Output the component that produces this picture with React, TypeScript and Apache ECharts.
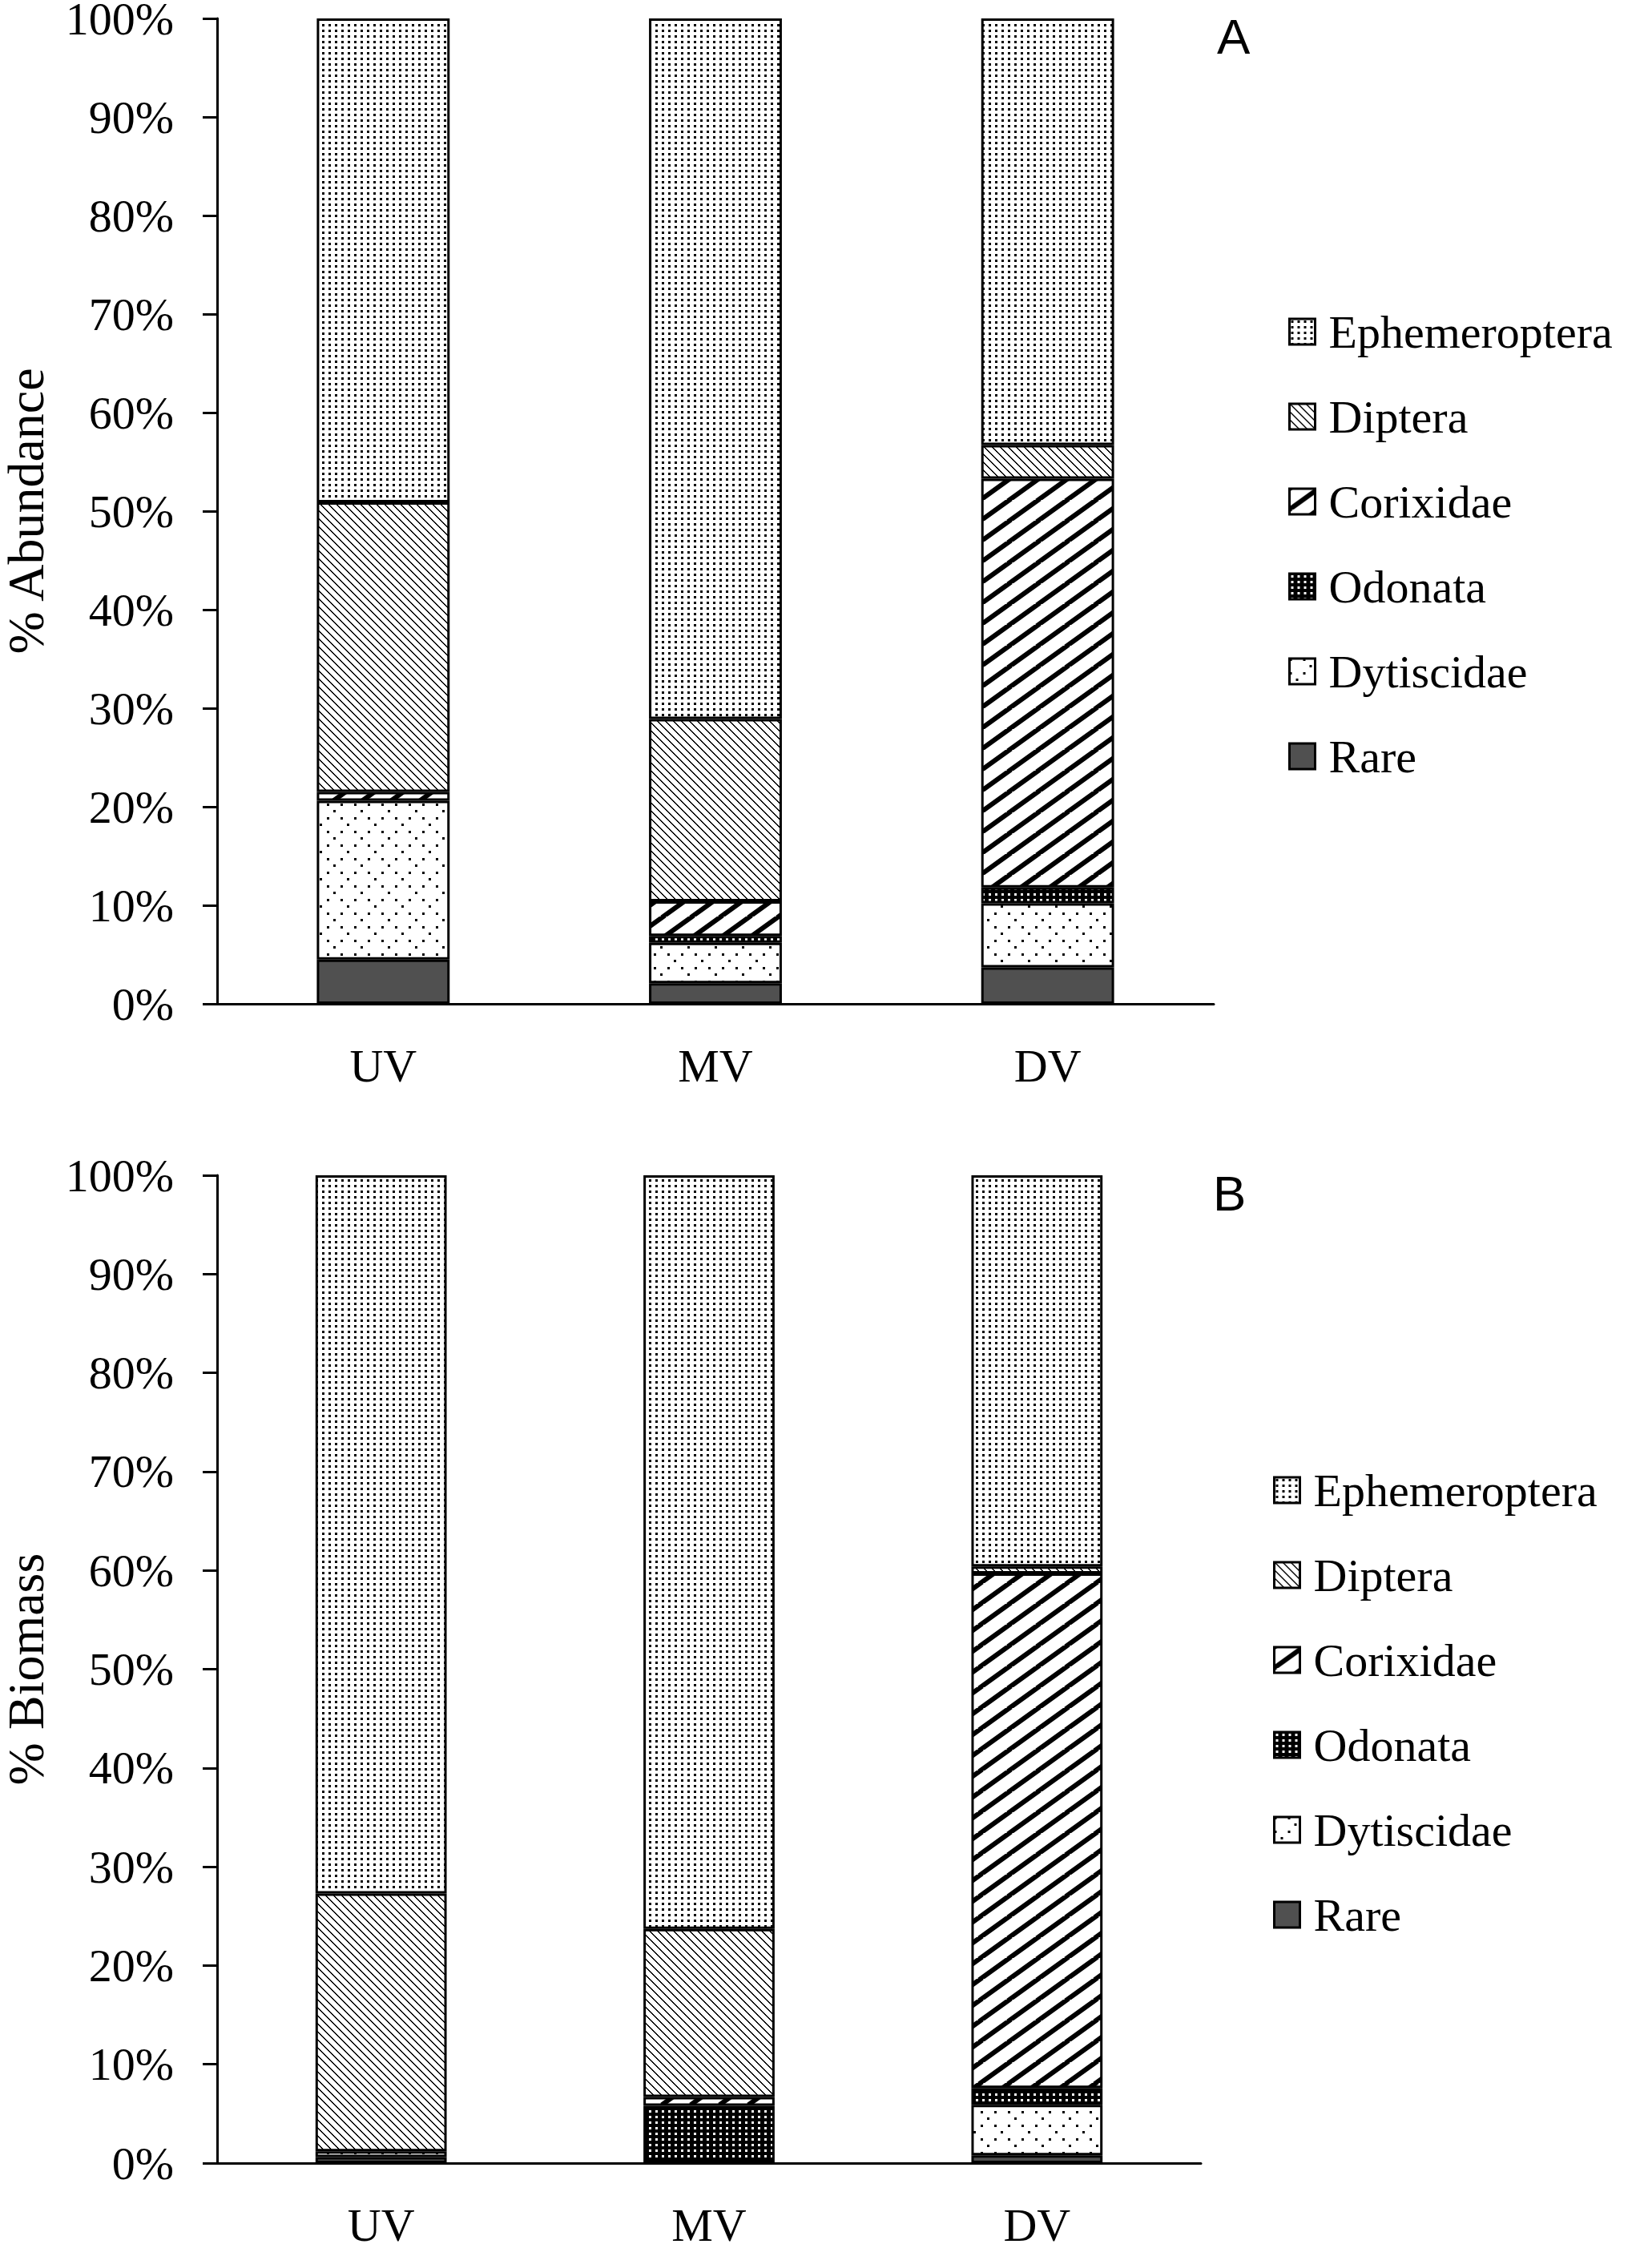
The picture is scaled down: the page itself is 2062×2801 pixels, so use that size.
import React, { useEffect, useRef } from 'react';
import * as echarts from 'echarts';

const categories = ['UV', 'MV', 'DV'];
const stackOrder = ['Rare', 'Dytiscidae', 'Odonata', 'Corixidae', 'Diptera', 'Ephemeroptera'];
const legendOrder = ['Ephemeroptera', 'Diptera', 'Corixidae', 'Odonata', 'Dytiscidae', 'Rare'];

// Panel A: % Abundance
const abundanceRare = [4.5, 2.1, 3.7];
const abundanceDytiscidae = [16.1, 4.1, 6.5];
const abundanceOdonata = [0, 0.7, 1.6];
const abundanceCorixidae = [0.9, 3.5, 41.5];
const abundanceDiptera = [29.4, 18.5, 3.4];
const abundanceEphemeroptera = [49.1, 71.1, 43.3];

// Panel B: % Biomass
const biomassRare = [0.6, 0, 0.8];
const biomassDytiscidae = [0.6, 0, 5.1];
const biomassOdonata = [0, 5.8, 1.7];
const biomassCorixidae = [0, 0.9, 52.1];
const biomassDiptera = [26.1, 17.0, 0.7];
const biomassEphemeroptera = [72.7, 76.3, 39.6];

const abundance: Record<string, number[]> = {
  Rare: abundanceRare,
  Dytiscidae: abundanceDytiscidae,
  Odonata: abundanceOdonata,
  Corixidae: abundanceCorixidae,
  Diptera: abundanceDiptera,
  Ephemeroptera: abundanceEphemeroptera,
};
const biomass: Record<string, number[]> = {
  Rare: biomassRare,
  Dytiscidae: biomassDytiscidae,
  Odonata: biomassOdonata,
  Corixidae: biomassCorixidae,
  Diptera: biomassDiptera,
  Ephemeroptera: biomassEphemeroptera,
};

const SERIF = 'Liberation Serif';
const AXIS_FS = 58;
const LEGEND_FS = 58;

function makePattern(w: number, h: number, bg: string, draw: (ctx: CanvasRenderingContext2D) => void) {
  const c = document.createElement('canvas');
  c.width = w;
  c.height = h;
  const ctx = c.getContext('2d')!;
  ctx.fillStyle = bg;
  ctx.fillRect(0, 0, w, h);
  ctx.fillStyle = '#000';
  ctx.strokeStyle = '#000';
  draw(ctx);
  return { image: c.toDataURL(), repeat: 'repeat', imageWidth: w, imageHeight: h };
}

function buildFills(): Record<string, any> {
  const ephem = makePattern(8, 7, '#fff', (ctx) => {
    ctx.fillRect(2, 2, 3, 3);
  });
  const diptera = makePattern(10, 10, '#fff', (ctx) => {
    for (let i = 0; i < 10; i++) {
      ctx.fillRect(i, i, 2, 1);
      if (i === 9) ctx.fillRect(0, 9, 1, 1);
    }
  });
  const corix = makePattern(36, 26, '#fff', (ctx) => {
    ctx.lineWidth = 6;
    ctx.beginPath();
    for (let k = -1; k <= 1; k++) {
      ctx.moveTo(k * 36 - 2, 26 + (26 / 36) * 2);
      ctx.lineTo(k * 36 + 36 + 2, -(26 / 36) * 2);
    }
    ctx.stroke();
  });
  const odon = makePattern(8, 7, '#000', (ctx) => {
    ctx.fillStyle = '#fff';
    ctx.fillRect(2, 2, 3, 3);
  });
  const dyt = makePattern(34, 34, '#fff', (ctx) => {
    ctx.fillRect(0, 0, 3, 3);
    ctx.fillRect(17, 0, 3, 3);
    ctx.fillRect(25, 8, 3, 3);
    ctx.fillRect(0, 17, 3, 3);
    ctx.fillRect(17, 17, 3, 3);
    ctx.fillRect(8, 25, 3, 3);
  });
  return {
    Ephemeroptera: ephem,
    Diptera: diptera,
    Corixidae: corix,
    Odonata: odon,
    Dytiscidae: dyt,
    Rare: '#505050',
  };
}

export default function App() {
  const ref = useRef<HTMLDivElement>(null);
  useEffect(() => {
    document.body.style.margin = '0';
    const chart = echarts.init(ref.current!, null, { renderer: 'svg' });
    const fills = buildFills();

    const grids = [
      { left: 271, top: 23, width: 1244, height: 1230, containLabel: false, outerBoundsMode: 'none' },
      { left: 271, top: 1467, width: 1228, height: 1233, containLabel: false, outerBoundsMode: 'none' },
    ];
    const axisNames = ['% Abundance', '% Biomass'];
    const datasets = [abundance, biomass];

    const xAxes = grids.map((_, i) => ({
      type: 'category',
      gridIndex: i,
      data: categories,
      axisLine: { lineStyle: { color: '#000', width: 3 } },
      axisTick: { show: false },
      axisLabel: { color: '#000', fontFamily: SERIF, fontSize: AXIS_FS, lineHeight: 46, margin: 54 },
    }));
    const yAxes = grids.map((_, i) => ({
      type: 'value',
      gridIndex: i,
      min: 0,
      max: 100,
      interval: 10,
      name: axisNames[i],
      nameLocation: 'middle',
      nameGap: 207,
      nameTextStyle: { color: '#000', fontFamily: SERIF, fontSize: 64, lineHeight: 64 },
      axisLine: { show: true, lineStyle: { color: '#000', width: 3 } },
      axisTick: { show: true, length: 18, lineStyle: { color: '#000', width: 3 } },
      splitLine: { show: false },
      axisLabel: { color: '#000', fontFamily: SERIF, fontSize: AXIS_FS, lineHeight: 44, margin: 54, formatter: '{value}%' },
    }));

    const series: any[] = [];
    datasets.forEach((ds, gi) => {
      stackOrder.forEach((name) => {
        series.push({
          type: 'bar',
          name,
          xAxisIndex: gi,
          yAxisIndex: gi,
          stack: 'panel' + gi,
          barWidth: '40%',
          silent: true,
          emphasis: { disabled: true },
          itemStyle: { color: fills[name], borderColor: '#000', borderWidth: 3 },
          data: ds[name].map((v) => (v === 0 ? null : v)),
        });
      });
    });

    const legendCommon = {
      orient: 'vertical',
      data: legendOrder,
      icon: 'rect',
      itemWidth: 32,
      itemHeight: 32,
      itemGap: 48,
      selectedMode: false,
      itemStyle: { borderColor: '#000', borderWidth: 3 },
      textStyle: { color: '#000', fontFamily: SERIF, fontSize: LEGEND_FS, lineHeight: 58, padding: [0, 0, 0, 12] },
    };

    chart.setOption({
      animation: false,
      backgroundColor: '#fff',
      grid: grids,
      xAxis: xAxes,
      yAxis: yAxes,
      legend: [
        { ...legendCommon, left: 1603, top: 380 },
        { ...legendCommon, left: 1584, top: 1826 },
      ],
      graphic: [
        { type: 'text', left: 1519, top: 14, style: { text: 'A', fontFamily: 'Liberation Sans', fontSize: 62, fill: '#000' } },
        { type: 'text', left: 1514, top: 1458, style: { text: 'B', fontFamily: 'Liberation Sans', fontSize: 62, fill: '#000' } },
      ],
      series,
    });
    return () => chart.dispose();
  }, []);
  return <div ref={ref} style={{ width: 2062, height: 2801 }} />;
}
